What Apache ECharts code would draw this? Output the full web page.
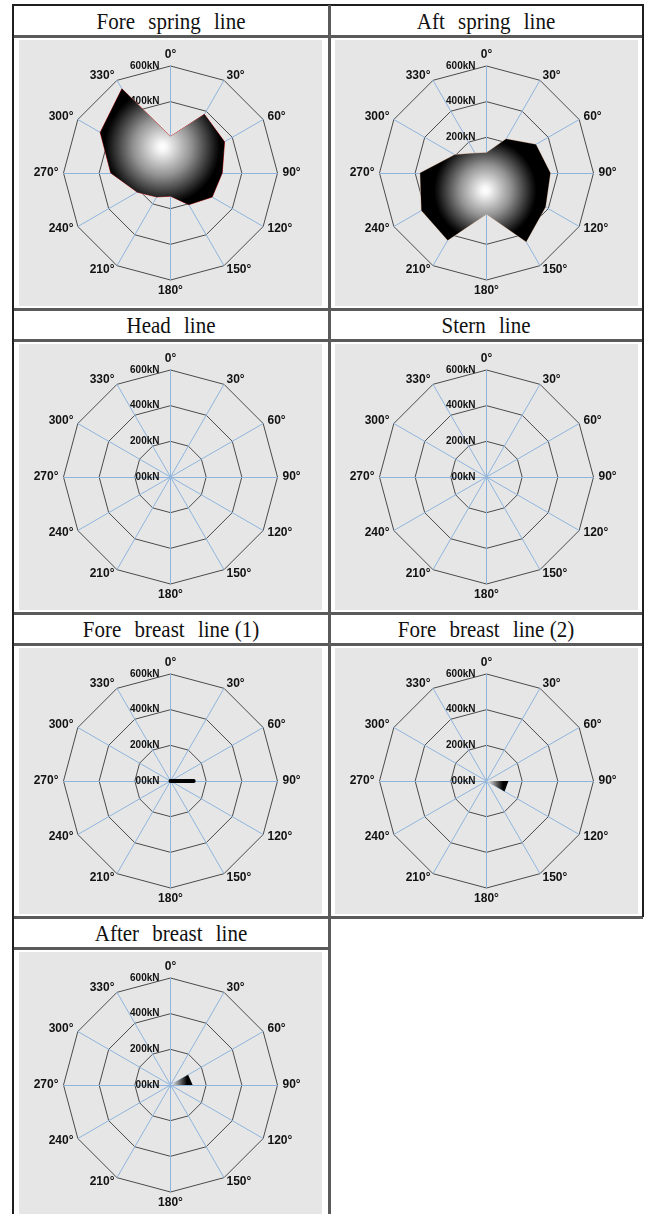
<!DOCTYPE html>
<html>
<head>
<meta charset="utf-8">
<script src="https://cdn.jsdelivr.net/npm/echarts@6/dist/echarts.min.js"></script>
<style>
  html, body { margin: 0; padding: 0; background: #fff; width: 645px; height: 1214px; overflow: hidden; }
  .rule { position: absolute; background: #5a5a5a; }
  .border { position: absolute; background: #1e1e1e; }
  .title { position: absolute; font-family: "Liberation Serif", serif; font-size: 21px; color: #111;
           text-align: center; word-spacing: 8px; line-height: 31px; transform: scaleY(1.1); }
  .title span { word-spacing: 0; }
  .panel { position: absolute; background: #e6e6e6; }
</style>
</head>
<body>
<script>
// Direction labels around each polar diagram (clockwise from bow)
const angleLabels = ['0°', '30°', '60°', '90°', '120°', '150°', '180°', '210°', '240°', '270°', '300°', '330°'];
// Tension scale
const tickValues = [0, 200, 400, 600];
const tickLabels = ['00kN', '200kN', '400kN', '600kN'];

// Mooring line tension (kN) per direction, 0° .. 330°
const foreSpring  = [205, 380, 350, 290, 270, 205, 130, 155, 215, 335, 455, 545];
const aftSpring   = [113, 220, 320, 358, 382, 445, 230, 435, 421, 372, 205, 128];
const headLine    = [];
const sternLine   = [];
const foreBreast1 = [0, 0, 0, 130, 0, 0, 0, 0, 0, 0, 0, 0];
const foreBreast2 = [0, 0, 0, 123, 117, 0, 0, 0, 0, 0, 0, 0];
const afterBreast = [0, 0, 114, 124, 0, 0, 0, 0, 0, 0, 0, 0];

const panelTitles = ['Fore spring line', 'Aft spring line', 'Head line', 'Stern line',
                     'Fore breast line (1)', 'Fore breast line (2)', 'After breast line'];
const panelData = [foreSpring, aftSpring, headLine, sternLine, foreBreast1, foreBreast2, afterBreast];
const panelKind = ['area', 'area', 'area', 'area', 'bar', 'wedge', 'wedge'];
const outlineColor = ['#cc3030', '#c9a58a', '#cc3030', '#cc3030', '#000', '#000', '#000'];

// Table geometry
const colX = [13, 329];
const tableRight = 643;
const rowTop = [5, 309, 613, 917];
const titleH = 31;

function addBox(cls, x, y, w, h) {
  const d = document.createElement('div');
  d.className = cls;
  Object.assign(d.style, { left: x + 'px', top: y + 'px', width: w + 'px', height: h + 'px' });
  document.body.appendChild(d);
  return d;
}

// horizontal rules
addBox('border', colX[0], rowTop[0] - 1, tableRight - colX[0], 2);
for (let r = 0; r < 4; r++) {
  const right = r < 3 ? tableRight : colX[1];
  if (r > 0) addBox('rule', colX[0], rowTop[r] - 1, tableRight - colX[0], 3);
  addBox('rule', colX[0], rowTop[r] + titleH - 1, right - colX[0], 3);
}
// vertical rules
addBox('border', colX[0] - 1, rowTop[0] - 1, 2, 1214);
addBox('rule', colX[1] - 1, rowTop[0], 3, 1214);
addBox('border', tableRight - 1, rowTop[0] - 1, 2, rowTop[3] - rowTop[0] + 1);

// clockwise ordering of indicators (radar runs counter-clockwise by default)
const order = [0, 11, 10, 9, 8, 7, 6, 5, 4, 3, 2, 1];

function setTitle(el, text) {
  // keep the numbered suffix close to the last word
  const cut = text.indexOf(' (');
  if (cut < 0) { el.textContent = text; return; }
  el.textContent = text.slice(0, cut);
  const s = document.createElement('span');
  s.textContent = text.slice(cut);
  el.appendChild(s);
}

panelData.forEach((vals, i) => {
  const r = Math.floor(i / 2), c = i % 2;
  const x0 = colX[c];
  const right = c === 0 ? colX[1] : tableRight;
  const t = addBox('title', x0, rowTop[r] + 1, right - x0, titleH - 2);
  setTitle(t, panelTitles[i]);

  const px = x0 + 6, py = rowTop[r] + titleH + 4;
  const panel = addBox('panel', px, py, 303, 266);
  const chart = echarts.init(panel, null, { renderer: 'canvas' });

  const indicator = order.map((k, j) => {
    const ind = { name: angleLabels[k], min: 0, max: 600 };
    if (j === 0) ind.axisLabel = { show: true };
    return ind;
  });

  let seriesItem;
  const value = vals.length ? order.map(k => vals[k]) : null;
  if (panelKind[i] === 'area') {
    seriesItem = {
      value: value,
      symbol: 'none',
      lineStyle: { color: outlineColor[i], width: 1 },
      areaStyle: {
        opacity: 1,
        color: new echarts.graphic.RadialGradient(0.5, 0.5, 0.5, [
          { offset: 0, color: '#ffffff' },
          { offset: 0.08, color: '#f6f6f6' },
          { offset: 0.5, color: '#929292' },
          { offset: 0.92, color: '#141414' },
          { offset: 1, color: '#000000' }
        ])
      }
    };
  } else if (panelKind[i] === 'bar') {
    seriesItem = {
      value: value,
      symbol: 'none',
      lineStyle: { color: '#000', width: 4, cap: 'round' }
    };
  } else {
    seriesItem = {
      value: value,
      symbol: 'none',
      lineStyle: { width: 0, opacity: 0 },
      areaStyle: {
        opacity: 1,
        color: new echarts.graphic.LinearGradient(0, 0, 1, 0, [
          { offset: 0, color: '#ffffff' },
          { offset: 0.75, color: '#000000' },
          { offset: 1, color: '#000000' }
        ])
      }
    };
  }

  chart.setOption({
    animation: false,
    radar: {
      indicator: indicator,
      shape: 'polygon',
      center: ['50%', '50%'],
      radius: 107,
      startAngle: 90,
      splitNumber: 3,
      nameGap: 5,
      axisName: { color: '#111', fontWeight: 'bold', fontSize: 12, fontFamily: 'Liberation Sans' },
      splitLine: { lineStyle: { color: '#4a4a4a', width: 1 } },
      splitArea: { show: false },
      axisLine: { lineStyle: { color: '#8fb4dc', width: 1 } },
      axisTick: { show: false },
      axisLabel: {
        show: false,
        color: '#111',
        fontSize: 10,
        fontWeight: 'bold',
        fontFamily: 'Liberation Sans',
        margin: 11,
        formatter: v => tickLabels[tickValues.indexOf(v)]
      }
    },
    series: [{
      type: 'radar',
      silent: true,
      data: value ? [seriesItem] : []
    }]
  });
});
</script>
</body>
</html>
